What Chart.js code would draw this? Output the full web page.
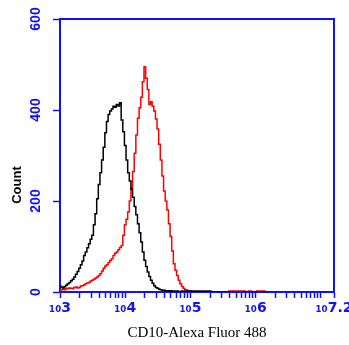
<!DOCTYPE html>
<html>
<head>
<meta charset="utf-8">
<script src="https://cdn.jsdelivr.net/npm/chart.js@4"></script>
<style>
html,body{margin:0;padding:0;background:#fff;}
#wrap{width:349px;height:345px;position:relative;}
</style>
</head>
<body>
<div id="wrap"><canvas id="c"></canvas></div>
<script>
// log10 of fluorescence intensity for each histogram bin
const binExponents = [
  3.000,3.025,3.050,3.075,3.100,3.125,3.150,3.175,3.200,3.225,3.250,3.275,3.300,3.325,3.350,3.375,3.400,3.425,3.450,3.475,
  3.500,3.525,3.550,3.575,3.600,3.625,3.650,3.675,3.700,3.725,3.750,3.775,3.800,3.825,3.850,3.875,3.900,3.925,3.950,3.975,
  4.000,4.025,4.050,4.075,4.100,4.125,4.150,4.175,4.200,4.225,4.250,4.275,4.300,4.325,4.350,4.375,4.400,4.425,4.450,4.475,
  4.500,4.525,4.550,4.575,4.600,4.625,4.650,4.675,4.700,4.725,4.750,4.775,4.800,4.825,4.850,4.875,4.900,4.925,4.950,4.975,
  5.000,5.025,5.050,5.075,5.100,5.125,5.150,5.175,5.200,5.225,5.250,5.275,5.300,5.325,5.350,5.375,5.400,5.425,5.450,5.475,
  5.500,5.525,5.550,5.575,5.600,5.625,5.650,5.675,5.700,5.725,5.750,5.775,5.800,5.825,5.850,5.875,5.900,5.925,5.950,5.975,
  6.000,6.025,6.050,6.075,6.100,6.125,6.150,6.175,6.200];
// isotype control (black)
const controlCounts = [
  13,11,9,12,15,18,21,25,28,33,39,45,52,60,68,80,88,97,106,116,
  125,148,172,205,236,262,290,318,350,375,390,398,402,408,406,412,409,416,378,352,
  322,290,262,244,226,208,188,170,150,130,110,88,70,56,44,34,26,19,14,10,
  8,6,5,4,4,3,3,2,3,2,2,1,2,1,1,2,1,2,2,0,
  2,0,2,2,0,2,2,0,2,2,0,2,2,0,0,0,0,0,0,0,
  0,0,0,0,0,0,0,0,0,0,0,0,0,0,0,0,0,0,0,0,
  0,0,0,0,0,0,0,0,0];
// CD10 stained (red)
const cd10Counts = [
  4,5,6,5,8,7,9,8,7,10,11,9,10,13,14,16,18,20,21,24,
  26,28,31,33,36,40,46,52,57,60,65,69,73,80,85,88,93,98,102,125,
  148,160,176,200,228,265,305,345,382,405,428,462,495,470,445,412,418,408,398,380,
  358,325,290,255,222,200,180,150,122,90,62,48,36,26,18,12,8,5,4,2,
  2,1,0,0,0,0,0,0,0,0,0,0,0,0,0,0,0,0,0,0,
  0,0,0,0,2,2,2,0,2,2,0,2,2,2,0,0,2,2,0,0,
  0,2,2,0,2,2,0,0,0];
// x-axis tick positions (exponents) and labels
const xTickExponents = [3,3.30103,3.47712,3.60206,3.69897,3.77815,3.84510,3.90309,3.95424,
  4,4.30103,4.47712,4.60206,4.69897,4.77815,4.84510,4.90309,4.95424,
  5,5.30103,5.47712,5.60206,5.69897,5.77815,5.84510,5.90309,5.95424,
  6,6.30103,6.47712,6.60206,6.69897,6.77815,6.84510,6.90309,6.95424,7,7.2];
const xLabelExponents = [3,4,5,6,7.2];
const xLabels = ['\u2081\u20803','\u2081\u20804','\u2081\u20805','\u2081\u20806','\u2081\u20807.2'];
const yTicks = [0,200,400,600];
const xTitle = 'CD10-Alexa Fluor 488';
const yTitle = 'Count';

const BLUE = '#1010ff';

const frame = {
  id: 'frame',
  afterDraw(chart) {
    const {ctx, chartArea: a} = chart;
    ctx.save();
    ctx.strokeStyle = BLUE;
    ctx.lineWidth = 2;
    ctx.beginPath();
    ctx.moveTo(a.left, a.top);
    ctx.lineTo(a.right, a.top);
    ctx.lineTo(a.right, a.bottom);
    ctx.stroke();
    // y-axis title
    ctx.translate(17, 185);
    ctx.rotate(-Math.PI / 2);
    ctx.fillStyle = '#000';
    ctx.font = 'bold 13px "Liberation Sans", Arial, sans-serif';
    ctx.textAlign = 'center';
    ctx.textBaseline = 'middle';
    ctx.fillText(yTitle, 0, 0);
    ctx.restore();
  }
};

new Chart(document.getElementById('c'), {
  type: 'line',
  data: {
    datasets: [
      {
        label: 'Control',
        data: binExponents.map((x, i) => ({x, y: controlCounts[i]})),
        borderColor: '#000000',
        borderWidth: 1.5,
        pointRadius: 0,
        stepped: 'middle',
        fill: false
      },
      {
        label: 'CD10',
        data: binExponents.map((x, i) => ({x, y: cd10Counts[i]})),
        borderColor: '#ff0000',
        borderWidth: 1.5,
        pointRadius: 0,
        stepped: 'middle',
        fill: false
      }
    ]
  },
  options: {
    responsive: true,
    maintainAspectRatio: false,
    animation: false,
    layout: {padding: {top: 19, right: 15, left: 0, bottom: 0}},
    plugins: {legend: {display: false}, tooltip: {enabled: false}},
    scales: {
      x: {
        type: 'linear',
        min: 3, max: 7.2,
        afterBuildTicks: s => { s.ticks = xTickExponents.map(v => ({value: v})); },
        afterFit: s => { s.height = 53; s.paddingLeft = 0; s.paddingRight = 0; },
        border: {color: BLUE, width: 2},
        grid: {drawOnChartArea: false, drawTicks: true, tickLength: 6, tickColor: BLUE, tickWidth: 1.5},
        ticks: {
          autoSkip: false, maxRotation: 0, minRotation: 0, padding: 2,
          color: BLUE,
          font: {family: '"DejaVu Sans", sans-serif', size: 14, weight: 'bold'},
          callback: v => {
            const k = xLabelExponents.findIndex(e => Math.abs(e - v) < 1e-6);
            return k >= 0 ? xLabels[k] : '';
          }
        },
        title: {
          display: true, text: xTitle, color: '#000',
          font: {family: '"Liberation Serif", "Times New Roman", serif', size: 15},
          padding: {top: 0, bottom: 3}
        }
      },
      y: {
        min: 0, max: 600,
        afterBuildTicks: s => { s.ticks = yTicks.map(v => ({value: v})); },
        afterFit: s => { s.width = 60; s.paddingTop = 0; s.paddingBottom = 0; },
        border: {color: BLUE, width: 2},
        grid: {drawOnChartArea: false, drawTicks: true, tickLength: 7, tickColor: BLUE, tickWidth: 1.5},
        ticks: {
          minRotation: 90, maxRotation: 90, crossAlign: 'center', padding: 5,
          color: BLUE,
          font: {family: '"Liberation Sans", Arial, sans-serif', size: 14, weight: 'bold'}
        }
      }
    }
  },
  plugins: [frame]
});
</script>
</body>
</html>
